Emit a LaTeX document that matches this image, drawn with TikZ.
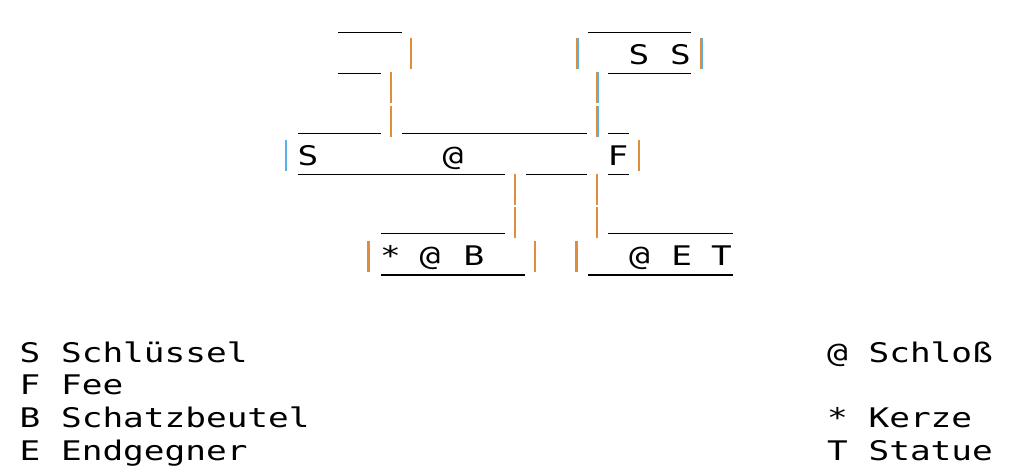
\documentclass[tikz,border=0pt]{standalone}
\usepackage{fontspec}
\newfontfamily\monofont[FakeStretch=1.274]{DejaVu Sans Mono}
\definecolor{barorange}{RGB}{222,142,58}
\definecolor{barblue}{RGB}{88,178,232}
\tikzset{
  wall/.style={line width=1.9pt, black},
  barL/.style={line width=1.4pt, barorange},
  barR/.style={line width=1.4pt, barblue},
  pics/vbar/.style={code={
    \draw[barL] (-0.7,0) -- (-0.7,31);
    \draw[barR] (0.7,0) -- (0.7,31);}},
  ch/.style={font=\monofont\fontsize{27}{27}\selectfont, inner sep=0pt, anchor=base},
  leg/.style={font=\monofont\fontsize{27}{27}\selectfont, inner sep=0pt, anchor=base west},
}
\begin{document}
\begin{tikzpicture}[x=1pt,y=-1pt]
\useasboundingbox (0,0) rectangle (1020,476);
% horizontal walls
\draw[wall] (338,32.5) -- (402,32.5);
\draw[wall] (588,32.5) -- (691,32.5);
\draw[wall] (338,73.5) -- (381,73.5);
\draw[wall] (608,73.5) -- (691,73.5);
\draw[wall] (298,133.5) -- (381,133.5);
\draw[wall] (402,133.5) -- (587,133.5);
\draw[wall] (608,133.5) -- (629,133.5);
\draw[wall] (298,174.5) -- (505,174.5);
\draw[wall] (526,174.5) -- (587,174.5);
\draw[wall] (608,174.5) -- (629,174.5);
\draw[wall] (381,233.5) -- (505,233.5);
\draw[wall] (608,233.5) -- (733,233.5);
\draw[wall] (381,275) -- (525,275);
\draw[wall] (588,275) -- (733,275);
% vertical walls
\pic at (411,38.5) {vbar};
\pic at (577.5,38.5) {vbar};
\pic at (701.5,38.5) {vbar};
\pic at (391,72) {vbar};
\pic at (391,106) {vbar};
\pic at (597.5,72) {vbar};
\pic at (597.5,106) {vbar};
\pic at (286,140) {vbar};
\pic at (639,140) {vbar};
\pic at (515,173.5) {vbar};
\pic at (515,207) {vbar};
\pic at (597,173.5) {vbar};
\pic at (597,207) {vbar};
\pic at (368.5,240.5) {vbar};
\pic at (535,240.5) {vbar};
\pic at (576.7,240.5) {vbar};
% map symbols
\node[ch] (s1) at (639,64.5) {S};
\node[ch] (s2) at (680.5,64.5) {S};
\node[ch] (s3) at (308,165.5) {S};
\node[ch] (lock1) at (453,165.5) {@};
\node[ch] (fee) at (618,165.5) {F};
\node[ch] (candle) at (390.5,265.5) {*};
\node[ch] (lock2) at (430,265.5) {@};
\node[ch] (bag) at (474,265.5) {B};
\node[ch] (lock3) at (639.5,265.5) {@};
\node[ch] (boss) at (681.7,265.5) {E};
\node[ch] (statue) at (721.5,265.5) {T};
% legend
\node[leg] (l1) at (19.5,362) {S Schlüssel};
\node[leg] (l2) at (19.5,394.5) {F Fee};
\node[leg] (l3) at (19.5,427) {B Schatzbeutel};
\node[leg] (l4) at (19.5,460) {E Endgegner};
\node[leg] (r1) at (827,362) {@ Schloß};
\node[leg] (r3) at (827,427) {* Kerze};
\node[leg] (r4) at (827,460) {T Statue};
\end{tikzpicture}
\end{document}
